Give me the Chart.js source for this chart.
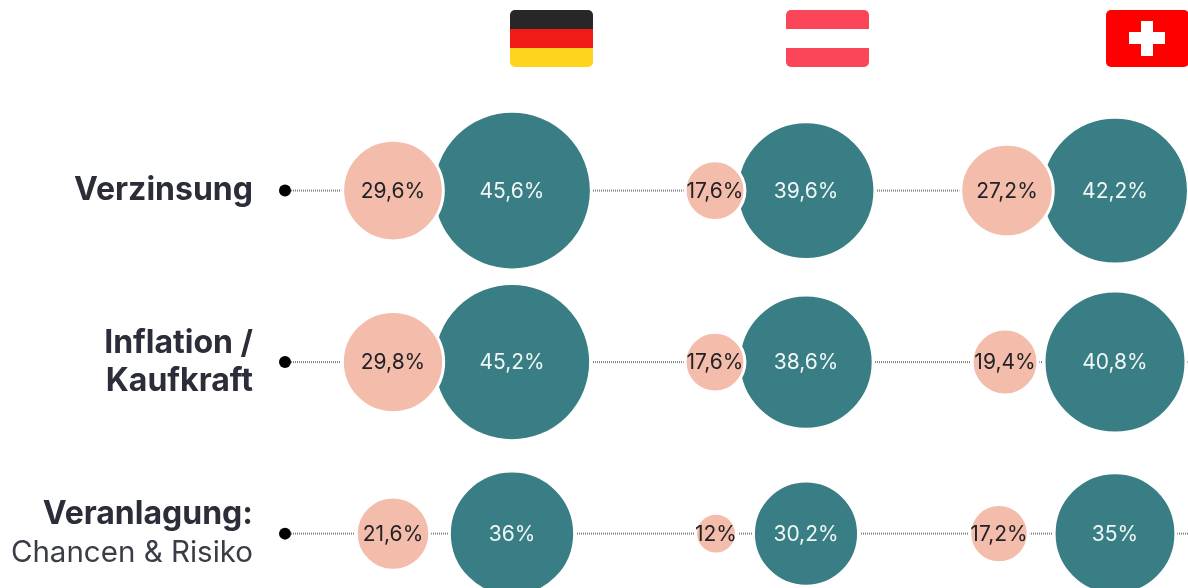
<!DOCTYPE html>
<html lang="de">
<head>
<meta charset="utf-8">
<title>Verzinsung, Inflation, Veranlagung</title>
<style>
  html, body { margin: 0; background: #fff; }
  canvas { display: block; }
</style>
</head>
<body>
<canvas id="chart" width="1188" height="588"></canvas>
<script src="https://cdn.jsdelivr.net/npm/chart.js@4/dist/chart.umd.js"></script>
<script>
/* Values: one entry per country (DE, AT, CH) */
const countries = ['Deutschland', 'Österreich', 'Schweiz'];
const rowLabels = [['Verzinsung'], ['Inflation /', 'Kaufkraft'], ['Veranlagung:', '']];
const rowSubLabels = ['', '', 'Chancen & Risiko'];

const peachVerzinsung = [29.6, 17.6, 27.2];
const peachInflation = [29.8, 17.6, 19.4];
const peachVeranlagung = [21.6, 12, 17.2];

const tealVerzinsung = [45.6, 39.6, 42.2];
const tealInflation = [45.2, 38.6, 40.8];
const tealVeranlagung = [36, 30.2, 35];

/* Layout, all in x-scale units (separate from the data) */
const columnCentres = [512, 806, 1115];
const peachOffsets = [[119, 91, 108], [119, 91, 110], [119, 90, 116]];
const PEACH_RADIUS_PER_POINT = 1.7;
const TEAL_RADIUS_PER_POINT = 1.74;
const AXIS_WIDTH = 265;
const WIDTH = 1188;

const peachRows = [peachVerzinsung, peachInflation, peachVeranlagung];
const tealRows = [tealVerzinsung, tealInflation, tealVeranlagung];

function bubblePoints(rows, radiusPerPoint, xFor) {
  const pts = [];
  rows.forEach((row, r) => row.forEach((v, c) => {
    pts.push({ x: xFor(r, c), y: r, r: v * radiusPerPoint, value: v });
  }));
  return pts;
}

function fmt(v) { return String(v).replace('.', ',') + '%'; }

// Connector behind the bubbles, black dot on its first point
const connectors = rowLabels.map((_, r) => ({
  type: 'line',
  order: 3,
  data: [{ x: 285, y: r }, { x: WIDTH, y: r }],
  borderColor: '#808080',
  borderWidth: 2,
  borderDash: [1, 1],
  pointRadius: (c) => (c.dataIndex === 0 ? 6 : 0),
  pointBackgroundColor: '#000',
  pointBorderWidth: 0,
}));

// Value labels in the bubbles
const valueLabels = {
  id: 'valueLabels',
  afterDatasetsDraw(chart) {
    const { ctx } = chart;
    ctx.save();
    ctx.font = '21px "Inter"';
    ctx.textAlign = 'center';
    ctx.textBaseline = 'middle';
    chart.data.datasets.forEach((ds, i) => {
      if (ds.type === 'line') return;
      ctx.fillStyle = ds.labelColor;
      chart.getDatasetMeta(i).data.forEach((el, j) => {
        ctx.fillText(fmt(ds.data[j].value), el.x, el.y + 1);
      });
    });
    ctx.restore();
  },
};

// The second, regular-weight label line and the flags
const extras = {
  id: 'extras',
  afterDraw(chart) {
    const { ctx, scales } = chart;
    ctx.save();
    ctx.font = '29.5px "Inter"';
    ctx.fillStyle = '#3a3c46';
    ctx.textAlign = 'right';
    ctx.textBaseline = 'middle';
    rowSubLabels.forEach((t, r) => {
      if (t) ctx.fillText(t, 253, scales.y.getPixelForValue(r) + 19);
    });

    const flag = (x, stripes) => {
      ctx.save();
      ctx.beginPath();
      ctx.roundRect(x, 10, 83, 57, 5);
      ctx.clip();
      stripes.forEach((c, i) => {
        ctx.fillStyle = c;
        ctx.fillRect(x, 10 + i * 19, 83, 19);
      });
      ctx.restore();
    };
    flag(510, ['#272727', '#f11a16', '#ffd41f']);
    flag(786, ['#fb4558', '#ffffff', '#fb4558']);
    flag(1106, ['#ff0000', '#ff0000', '#ff0000']);
    ctx.fillStyle = '#fff';
    ctx.fillRect(1129, 32, 36, 12);
    ctx.fillRect(1141, 21, 12, 35);
    ctx.restore();
  },
};

new Chart(document.getElementById('chart'), {
  type: 'bubble',
  data: {
    datasets: [
      {
        label: 'Anteil 1',
        order: 1,
        data: bubblePoints(peachRows, PEACH_RADIUS_PER_POINT, (r, c) => columnCentres[c] - peachOffsets[r][c]),
        backgroundColor: '#f3bcab',
        borderColor: '#fff',
        borderWidth: 3,
        labelColor: '#222226',
      },
      {
        label: 'Anteil 2',
        order: 2,
        data: bubblePoints(tealRows, TEAL_RADIUS_PER_POINT, (r, c) => columnCentres[c]),
        backgroundColor: '#397e85',
        borderColor: '#fff',
        borderWidth: 3,
        labelColor: '#f2f7f7',
      },
      ...connectors,
    ],
  },
  options: {
    responsive: false,
    animation: false,
    layout: { padding: 0, autoPadding: false },
    plugins: { legend: { display: false }, tooltip: { enabled: false } },
    scales: {
      x: { type: 'linear', display: false, min: AXIS_WIDTH, max: WIDTH },
      y: {
        type: 'linear',
        reverse: true,
        min: -1.111,
        max: 2.317,
        // fixed width, and no room kept for the outer tick labels
        afterFit(scale) {
          scale.width = AXIS_WIDTH;
          scale.paddingTop = 0;
          scale.paddingBottom = 0;
        },
        afterBuildTicks(scale) { scale.ticks = rowLabels.map((_, i) => ({ value: i })); },
        grid: { display: false, drawTicks: false },
        border: { display: false },
        ticks: {
          padding: 12,
          color: '#2b2d38',
          font: { family: '"Inter"', size: 32, weight: 'bold', lineHeight: 1.19 },
          callback: (v) => rowLabels[v],
        },
      },
    },
  },
  plugins: [valueLabels, extras],
});
</script>
</body>
</html>
